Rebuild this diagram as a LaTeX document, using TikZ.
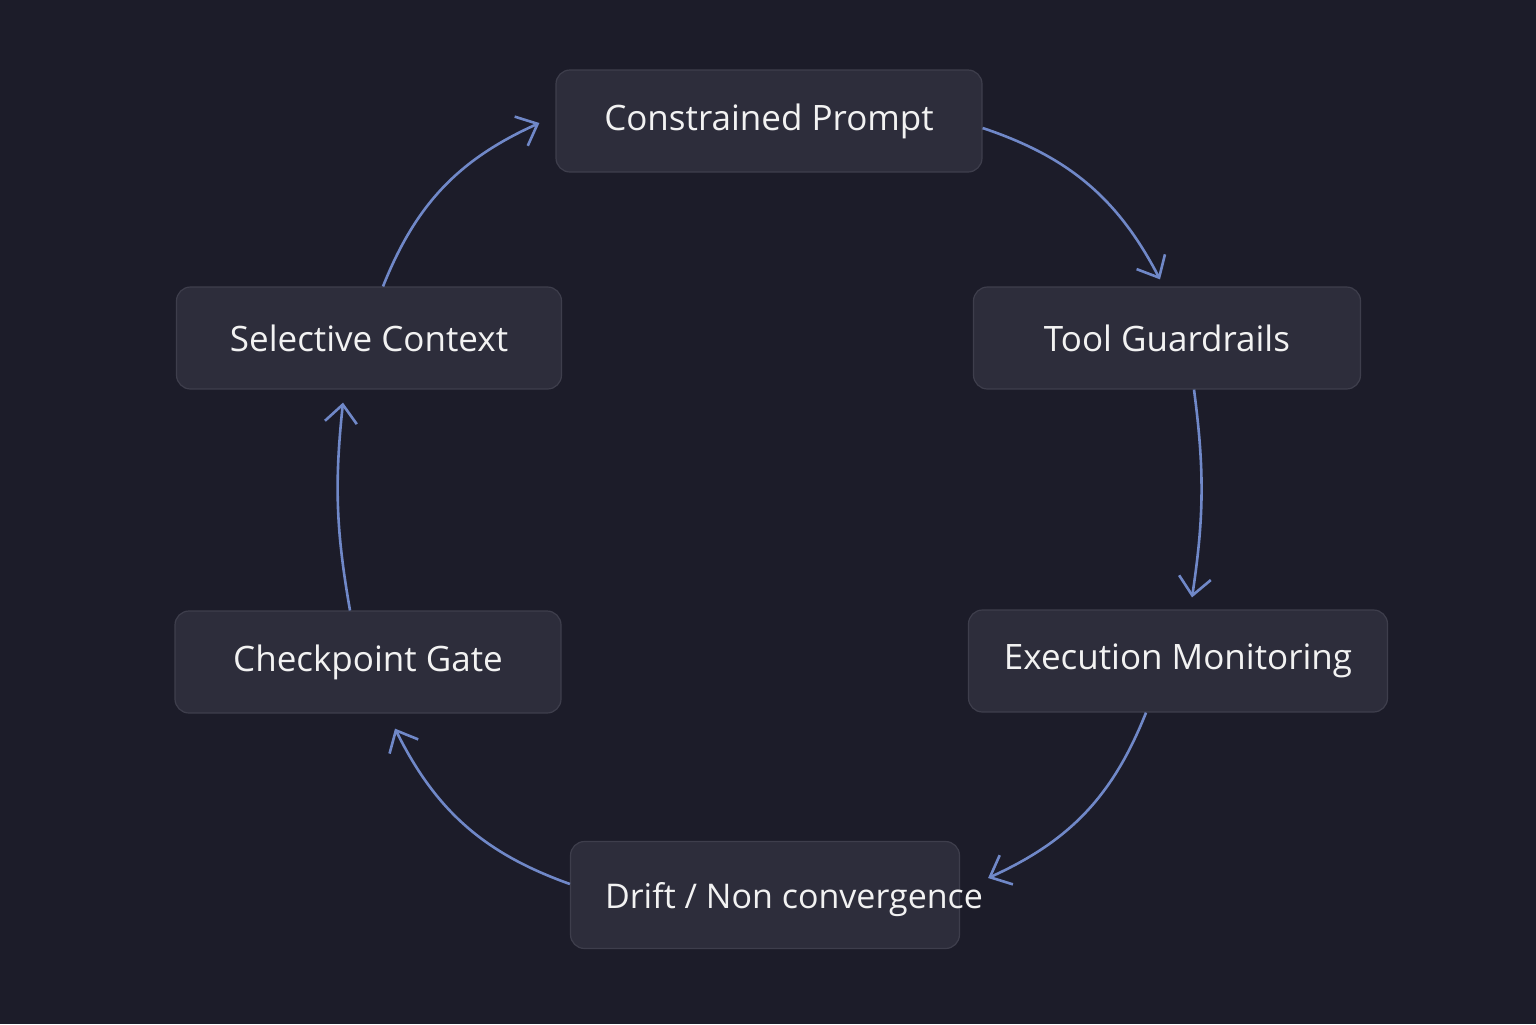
\documentclass[tikz,border=0pt]{standalone}
\usepackage{fontspec}
\setmainfont{Open Sans}
\usetikzlibrary{arrows.meta}
\definecolor{bg}{HTML}{1C1C29}
\definecolor{boxfill}{HTML}{2D2D3B}
\definecolor{boxline}{HTML}{3E3E4C}
\definecolor{arr}{HTML}{7088C8}
\definecolor{txt}{HTML}{F2F2F2}
\tikzset{
  box/.style={draw=boxline, line width=0.6pt, fill=boxfill, rounded corners=7pt, text=txt, font=\fontsize{17.5}{20}\selectfont, inner sep=0pt},
  flow/.style={draw=arr, line width=1.3pt, -{Straight Barb[length=9pt,width=16pt,line width=1.3pt]}, bend left=22}
}
\begin{document}
\begin{tikzpicture}[x=0.5pt,y=-0.5pt]
\fill[bg] (0,0) rectangle (1536,1024);
\useasboundingbox (0,0) rectangle (1536,1024);
\node[box, minimum width=213pt, minimum height=51pt] (cp) at (769,121) {Constrained Prompt};
\node[box, minimum width=193.5pt, minimum height=51pt] (tg) at (1167,338) {Tool Guardrails};
\node[box, minimum width=209.5pt, minimum height=51pt] (em) at (1178,661) {Execution Monitoring};
\node[box, minimum width=194.5pt, minimum height=53.5pt] (dr) at (765,895) {};
\node[text=txt, font=\fontsize{17}{20}\selectfont] (drt) at (794,900) {Drift / Non convergence};
\node[box, minimum width=193pt, minimum height=51pt] (cg) at (368,662) {Checkpoint Gate};
\node[box, minimum width=192.5pt, minimum height=51pt] (sc) at (369,338) {Selective Context};
\draw[flow] ([yshift=-3.5pt]cp.east) to ([xshift=-3.5pt,yshift=3.5pt]tg.north);
\draw[flow] ([xshift=13.5pt]tg.south) to[bend left=8] ([xshift=7pt,yshift=6pt]em.north);
\draw[flow] ([xshift=-16pt]em.south) to ([xshift=14pt,yshift=8.5pt]dr.east);
\draw[flow] ([yshift=5.5pt]dr.west) to ([xshift=13.5pt,yshift=-7.5pt]cg.south);
\draw[flow] ([xshift=-9pt]cg.north) to[bend left=8] ([xshift=-13pt,yshift=-6.5pt]sc.south);
\draw[flow] ([xshift=7pt]sc.north) to ([xshift=-8pt,yshift=-1pt]cp.west);
\end{tikzpicture}
\end{document}
